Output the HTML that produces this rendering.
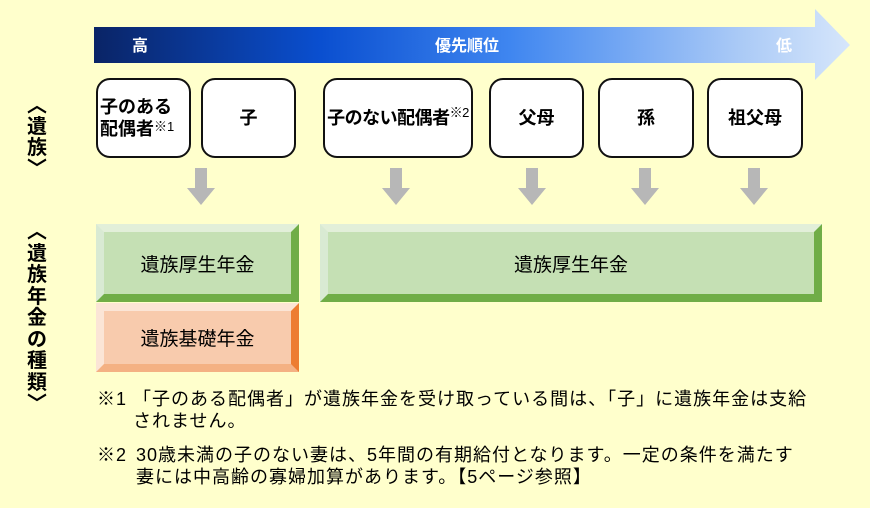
<!DOCTYPE html>
<html><head><meta charset="utf-8"><style>
*{margin:0;padding:0;box-sizing:border-box}
body{width:870px;height:508px;background:#ffffcc;position:relative;overflow:hidden;font-family:"Liberation Sans","Noto Sans CJK JP",sans-serif;color:#000}
.a{position:absolute}
.box{position:absolute;top:78px;height:80px;border:2px solid #111;border-radius:14px;background:#fff;display:flex;align-items:center;justify-content:center;font-weight:bold;font-size:18px;text-align:center;line-height:1.25;white-space:nowrap}
.bev{position:absolute;display:flex;align-items:center;justify-content:center;font-size:19px}
.note{position:absolute;font-size:18px;line-height:22px;letter-spacing:1px;white-space:nowrap}
.vl{position:absolute;font-weight:bold;font-size:20px;line-height:21px;width:24px;text-align:center}
</style></head><body>
<svg class="a" style="left:0;top:0" width="870" height="210">
<defs><linearGradient id="g" x1="94" x2="850" y1="0" y2="0" gradientUnits="userSpaceOnUse">
<stop offset="0" stop-color="#0a2466"/><stop offset="0.3" stop-color="#0a4fd0"/><stop offset="0.55" stop-color="#3f86f0"/><stop offset="0.85" stop-color="#a9c9f6"/><stop offset="1" stop-color="#d6e6fb"/></linearGradient></defs>
<polygon points="94,27 815,27 815,9 850,45 815,80 815,63 94,63" fill="url(#g)"/>
<text x="132" y="51" fill="#fff" font-weight="bold" font-size="16">高</text>
<text x="435" y="51" fill="#fff" font-weight="bold" font-size="16">優先順位</text>
<text x="776" y="51" fill="#fff" font-weight="bold" font-size="16">低</text>
<g fill="#b7b7b7">
<polygon points="195,168 207,168 207,188 215,188 201,205 187,188 195,188"/>
<polygon points="390,168 402,168 402,188 410,188 396,205 382,188 390,188"/>
<polygon points="526,168 538,168 538,188 546,188 532,205 518,188 526,188"/>
<polygon points="639,168 651,168 651,188 659,188 645,205 631,188 639,188"/>
<polygon points="748,168 760,168 760,188 768,188 754,205 740,188 748,188"/>
</g>
</svg>
<div class="box" style="left:96px;width:95px;justify-content:flex-start;text-align:left;padding-left:2px"><div>子のある<br>配偶者<span style="font-weight:normal;font-size:13px;position:relative;top:-4px">※1</span></div></div>
<div class="box" style="left:201px;width:95px">子</div>
<div class="box" style="left:323px;width:150px;letter-spacing:-0.5px"><div>子のない配偶者<span style="font-weight:normal;font-size:13px;position:relative;top:-7px">※2</span></div></div>
<div class="box" style="left:489px;width:95px">父母</div>
<div class="box" style="left:598px;width:96px">孫</div>
<div class="box" style="left:707px;width:96px">祖父母</div>
<div class="vl" style="left:25px;top:96px">︿<br>遺<br>族<br>﹀</div>
<div class="vl" style="left:25px;top:222px;line-height:21.5px">︿<br>遺<br>族<br>年<br>金<br>の<br>種<br>類<br>﹀</div>
<div class="bev" style="left:96px;top:224px;width:203px;height:78px;background:#c5e0b4;border-style:solid;border-width:8px;border-color:#e2efd9 #70ad47 #70ad47 #d9ead3">遺族厚生年金</div>
<div class="bev" style="left:320px;top:224px;width:502px;height:78px;background:#c5e0b4;border-style:solid;border-width:8px;border-color:#e2efd9 #70ad47 #70ad47 #d9ead3">遺族厚生年金</div>
<div class="bev" style="left:96px;top:303px;width:203px;height:69px;background:#f8cbad;border-style:solid;border-width:8px;border-color:#fbe5d6 #ed7d31 #f4b183 #fbe5d6">遺族基礎年金</div>
<div class="note" style="left:97px;top:388px">※1</div>
<div class="note" style="left:133px;top:388px">「子のある配偶者」が遺族年金を受け取っている間は、「子」に遺族年金は支給<br>されません。</div>
<div class="note" style="left:97px;top:444px">※2</div>
<div class="note" style="left:136px;top:444px">30歳未満の子のない妻は、5年間の有期給付となります。一定の条件を満たす<br>妻には中高齢の寡婦加算があります。【5ページ参照】</div>
</body></html>
